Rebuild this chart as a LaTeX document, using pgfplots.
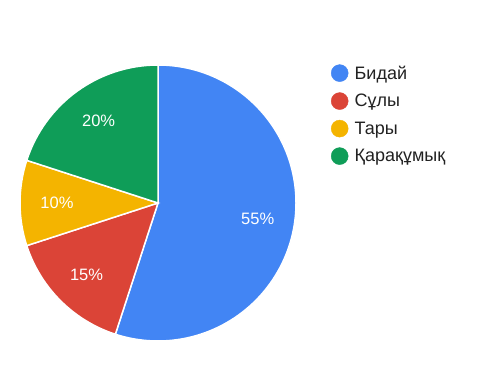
\documentclass[border=0pt]{standalone}
\usepackage{fontspec}
\setmainfont{Liberation Sans}
\usepackage{pgfplots}
\pgfplotsset{compat=1.18}
\definecolor{gblue}{HTML}{4285F4}
\definecolor{gred}{HTML}{DB4437}
\definecolor{gyellow}{HTML}{F4B400}
\definecolor{ggreen}{HTML}{0F9D58}
\definecolor{legtext}{HTML}{222222}
% slice: start value, end value (percent, cumulative), colour, label
\newcommand\slice[4]{%
  \fill[#3, draw=white, line width=1.5bp] (axis cs:158,185) -- ++({90-3.6*#1}:138bp)
     arc[start angle={90-3.6*#1}, end angle={90-3.6*#2}, radius=138bp] -- cycle;
  \path (axis cs:158,185) ++({90-1.8*(#1+#2)}:101bp)
     node[text=white, font=\fontsize{16.5bp}{19bp}\selectfont] {#4\%};
}
\begin{document}
\begin{tikzpicture}
\begin{axis}[
  scale only axis, width=499bp, height=388bp,
  xmin=0, xmax=499, ymin=0, ymax=388,
  hide axis, clip=false,
  legend style={at={(328/499,1-62/388)}, anchor=north west, draw=none, fill=none,
    font=\fontsize{18bp}{21bp}\selectfont, text=legtext, row sep=10.5bp,
    nodes={inner sep=1.5bp},
    /tikz/every odd column/.append style={column sep=5bp}},
  legend cell align=left,
]
\fill[white] (axis cs:0,0) rectangle (axis cs:499,388);
\slice{0}{55}{gblue}{55}
\slice{55}{70}{gred}{15}
\slice{70}{80}{gyellow}{10}
\slice{80}{100}{ggreen}{20}
\addlegendimage{only marks, mark=*, mark size=8.5bp, gblue, mark options={draw=gblue, fill=gblue}}
\addlegendentry{Бидай}
\addlegendimage{only marks, mark=*, mark size=8.5bp, gred, mark options={draw=gred, fill=gred}}
\addlegendentry{Сұлы}
\addlegendimage{only marks, mark=*, mark size=8.5bp, gyellow, mark options={draw=gyellow, fill=gyellow}}
\addlegendentry{Тары}
\addlegendimage{only marks, mark=*, mark size=8.5bp, ggreen, mark options={draw=ggreen, fill=ggreen}}
\addlegendentry{Қарақұмық}
\end{axis}
\end{tikzpicture}
\end{document}
